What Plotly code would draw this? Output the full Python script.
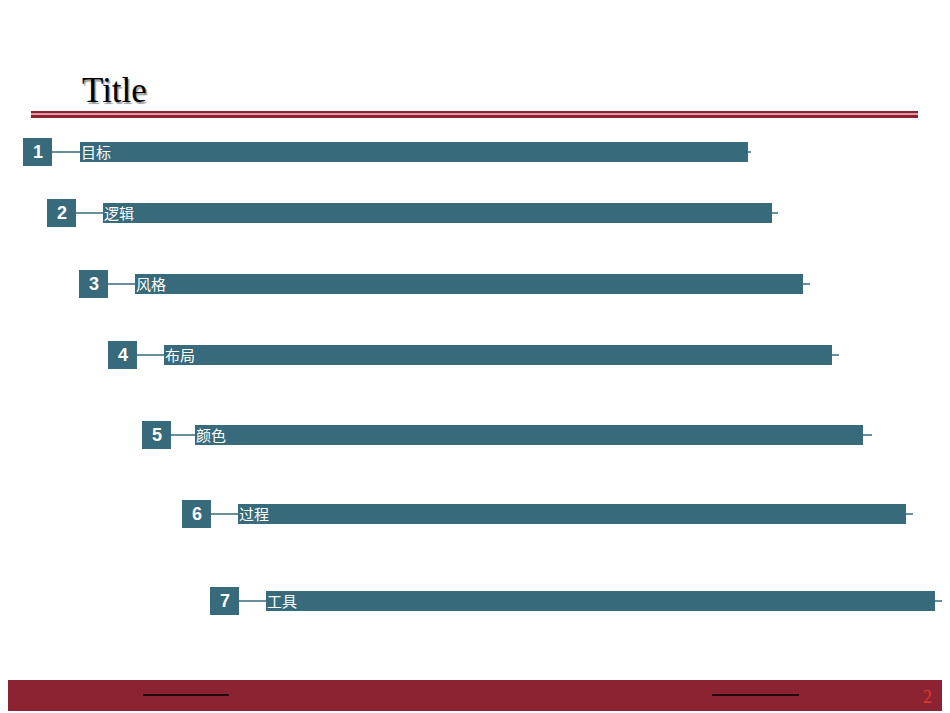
import plotly.graph_objects as go

labels = ["目标", "逻辑", "风格", "布局", "颜色", "过程", "工具"]
numbers = ["1", "2", "3", "4", "5", "6", "7"]
box_start = [23, 47, 79, 108, 142, 182, 210]
bar_start = [80, 103, 135, 164, 195, 238, 266]
bar_end = [748, 772, 803, 832, 863, 906, 935]
tick_end = [751, 778, 810, 839, 872, 913, 942]
rows = [152, 213, 284, 355, 435, 514, 601]

C = "#376A7B"
fig = go.Figure()
fig.add_trace(go.Bar(orientation="h", y=rows, base=bar_start,
                     x=[e - s for s, e in zip(bar_start, bar_end)], width=20,
                     marker=dict(color=C, line=dict(width=0)), hoverinfo="skip"))
fig.add_trace(go.Bar(orientation="h", y=rows, base=box_start, x=[29] * 7, width=28,
                     marker=dict(color=C, line=dict(width=0)), hoverinfo="skip"))
for i in range(7):
    y = rows[i]
    fig.add_trace(go.Scatter(x=[box_start[i] + 29, bar_start[i]], y=[y, y], mode="lines",
                             line=dict(color=C, width=1.5), hoverinfo="skip"))
    fig.add_trace(go.Scatter(x=[bar_end[i], tick_end[i]], y=[y, y], mode="lines",
                             line=dict(color=C, width=1.5), hoverinfo="skip"))
    fig.add_annotation(x=box_start[i] + 14.5, y=y, text="<b>" + numbers[i] + "</b>", showarrow=False,
                       font=dict(family="Liberation Sans, Arial", size=18, color="white"))
    fig.add_annotation(x=bar_start[i] - 1, y=y - 1, text=labels[i], showarrow=False, xanchor="left",
                       font=dict(family="Noto Sans CJK SC", size=15, color="white"))

shapes = [
    dict(type="rect", x0=31, x1=918, y0=111, y1=113.5, fillcolor="#8B2332", line_width=0),
    dict(type="rect", x0=31, x1=918, y0=113.5, y1=115, fillcolor="#E8A0A8", line_width=0),
    dict(type="rect", x0=31, x1=918, y0=115, y1=118, fillcolor="#8B2332", line_width=0),
    dict(type="rect", x0=0, x1=960, y0=680, y1=711, fillcolor="#8B2332", line_width=0, layer="below"),
    dict(type="line", x0=143, x1=229, y0=695, y1=695, line=dict(color="black", width=1.5)),
    dict(type="line", x0=712, x1=799, y0=695, y1=695, line=dict(color="black", width=1.5)),
]
fig.add_annotation(x=80, y=90, text="Title", showarrow=False, xanchor="left",
                   font=dict(family="Liberation Serif", size=35, color="black",
                             shadow="1.5px 1.5px 1px #999999"))
fig.add_annotation(x=927, y=697, text="2", showarrow=False,
                   font=dict(family="Liberation Serif", size=18, color="#E03A2A"))

fig.update_layout(width=950, height=713, margin=dict(l=0, r=0, t=0, b=0),
                  plot_bgcolor="white", paper_bgcolor="white", showlegend=False,
                  barmode="overlay", shapes=shapes,
                  xaxis=dict(range=[8, 958], visible=False, fixedrange=True),
                  yaxis=dict(range=[721, 8], visible=False, fixedrange=True))
fig.write_html("out.html")
